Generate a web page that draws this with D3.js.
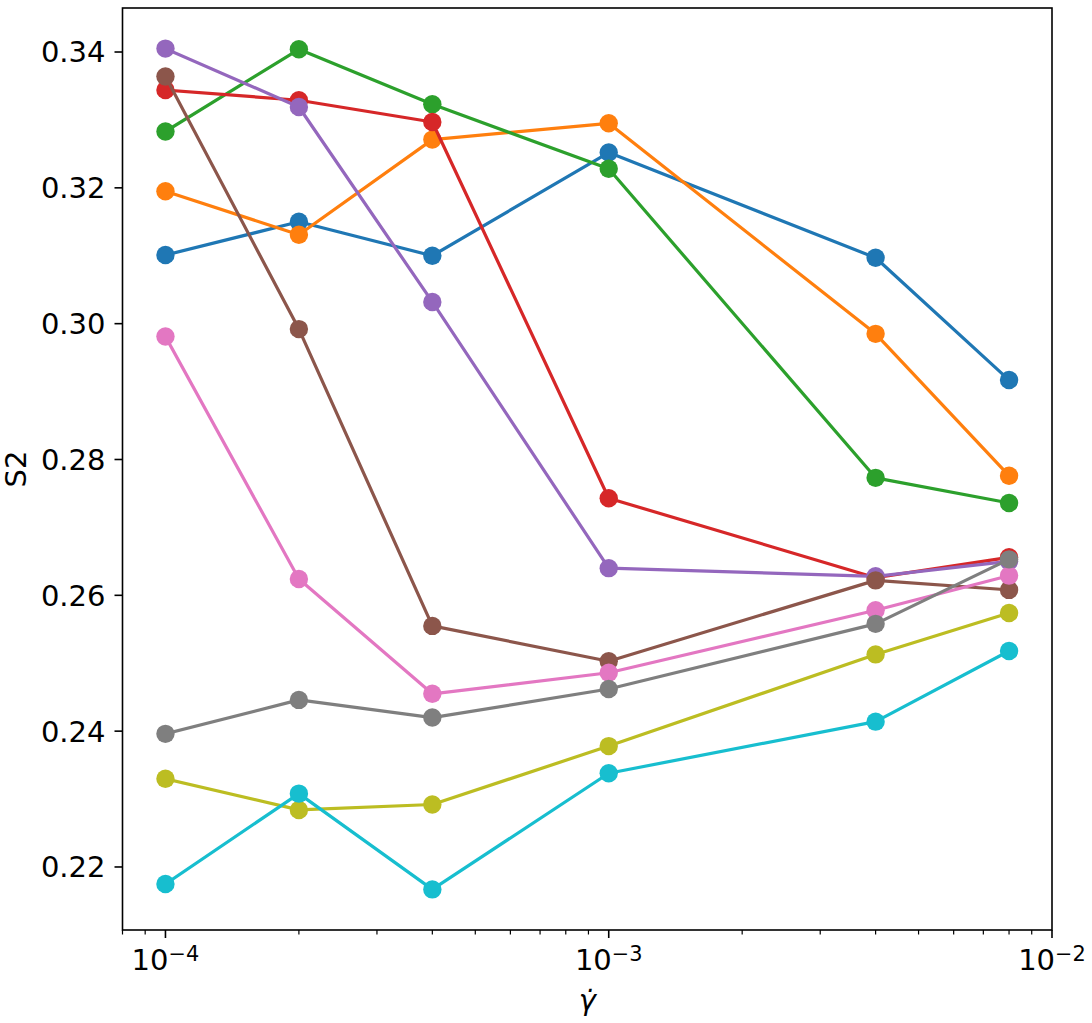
<!DOCTYPE html>
<html>
<head>
<meta charset="utf-8">
<script src="https://cdn.jsdelivr.net/npm/d3@7"></script>
<style>
  body { margin: 0; background: #fff; }
  text { font-family: "DejaVu Sans", sans-serif; fill: #000; }
</style>
</head>
<body>
<svg id="chart" width="1092" height="1023"></svg>
<script>
// shear rates (x) and S2 values, one array per run
var rates = [1e-4, 2e-4, 4e-4, 1e-3, 4e-3, 8e-3];
var s2_0 = [0.3101, 0.3150, 0.3100, 0.3252, 0.3097, 0.2917];
var s2_1 = [0.3195, 0.3131, 0.3271, 0.3295, 0.2985, 0.2776];
var s2_2 = [0.3283, 0.3404, 0.3323, 0.3228, 0.2773, 0.2736];
var s2_3 = [0.3344, 0.3329, 0.3297, 0.2743, 0.2626, 0.2656];
var s2_4 = [0.3405, 0.3319, 0.3032, 0.2640, 0.2628, 0.2650];
var s2_5 = [0.3364, 0.2992, 0.2555, 0.2503, 0.2622, 0.2608];
var s2_6 = [0.2981, 0.2624, 0.2455, 0.2486, 0.2578, 0.2629];
var s2_7 = [0.2396, 0.2446, 0.2420, 0.2462, 0.2558, 0.2653];
var s2_8 = [0.2330, 0.2284, 0.2292, 0.2378, 0.2513, 0.2574];
var s2_9 = [0.2175, 0.2308, 0.2167, 0.2338, 0.2414, 0.2518];
var runs = [s2_0, s2_1, s2_2, s2_3, s2_4, s2_5, s2_6, s2_7, s2_8, s2_9];
var colors = ["#1f77b4", "#ff7f0e", "#2ca02c", "#d62728", "#9467bd",
              "#8c564b", "#e377c2", "#7f7f7f", "#bcbd22", "#17becf"];
var yTicks = [0.22, 0.24, 0.26, 0.28, 0.30, 0.32, 0.34];
var xMajor = [1e-4, 1e-3, 1e-2];

var LEFT = 122.5, RIGHT = 1052, TOP = 8, BOTTOM = 930;
var FONT = 29;

var svg = d3.select("#chart");

var x = d3.scaleLog().domain([8e-5, 1e-2]).range([LEFT, RIGHT]);
var y = d3.scaleLinear().domain([0.21072, 0.34648]).range([BOTTOM, TOP]);

// minor ticks 2..9 per decade inside the domain
var xMinor = [];
[1e-5, 1e-4, 1e-3].forEach(function(dec){
    for (var k = 2; k <= 9; k++) {
        var v = k * dec;
        if (v >= 8e-5 && v <= 1e-2) xMinor.push(v);
    }
});

var line = d3.line()
    .x(function(d, i){ return x(rates[i]); })
    .y(function(d){ return y(d); });

var plot = svg.append("g");
runs.forEach(function(run, r){
    var g = plot.append("g");
    g.append("path")
        .attr("d", line(run))
        .attr("fill", "none")
        .attr("stroke", colors[r])
        .attr("stroke-width", 3.2)
        .attr("stroke-linejoin", "round")
        .attr("stroke-linecap", "square");
    g.selectAll("circle").data(run).enter().append("circle")
        .attr("cx", function(d, i){ return x(rates[i]); })
        .attr("cy", function(d){ return y(d); })
        .attr("r", 9.2)
        .attr("fill", colors[r]);
});

// frame
svg.append("rect")
    .attr("x", LEFT).attr("y", TOP)
    .attr("width", RIGHT - LEFT).attr("height", BOTTOM - TOP)
    .attr("fill", "none").attr("stroke", "#000").attr("stroke-width", 1.6);

// y axis
var yAxis = svg.append("g");
yAxis.selectAll("line").data(yTicks).enter().append("line")
    .attr("x1", LEFT - 8).attr("x2", LEFT)
    .attr("y1", function(d){ return y(d); })
    .attr("y2", function(d){ return y(d); })
    .attr("stroke", "#000").attr("stroke-width", 1.6);
yAxis.selectAll("text").data(yTicks).enter().append("text")
    .attr("x", LEFT - 17)
    .attr("y", function(d){ return y(d); })
    .attr("dy", "0.36em")
    .attr("text-anchor", "end")
    .style("font-size", FONT + "px")
    .text(function(d){ return d.toFixed(2); });

// x axis
var xAxis = svg.append("g");
xAxis.selectAll("line.major").data(xMajor).enter().append("line")
    .attr("class", "major")
    .attr("x1", function(d){ return x(d); }).attr("x2", function(d){ return x(d); })
    .attr("y1", BOTTOM).attr("y2", BOTTOM + 8)
    .attr("stroke", "#000").attr("stroke-width", 1.6);
xAxis.selectAll("line.minor").data(xMinor).enter().append("line")
    .attr("class", "minor")
    .attr("x1", function(d){ return x(d); }).attr("x2", function(d){ return x(d); })
    .attr("y1", BOTTOM).attr("y2", BOTTOM + 4.5)
    .attr("stroke", "#000").attr("stroke-width", 1.2);
var xl = xAxis.selectAll("text").data(xMajor).enter().append("text")
    .attr("x", function(d){ return x(d); })
    .attr("y", BOTTOM + 40)
    .attr("text-anchor", "middle")
    .style("font-size", FONT + "px");
xl.append("tspan").text("10");
xl.append("tspan")
    .attr("dy", "-0.45em")
    .style("font-size", (FONT * 0.72) + "px")
    .text(function(d){ return "\u2212" + Math.round(-Math.log10(d)); });

// axis labels
svg.append("text")
    .attr("transform", "translate(26," + ((TOP + BOTTOM) / 2) + ") rotate(-90)")
    .attr("text-anchor", "middle")
    .style("font-size", FONT + "px")
    .text("S2");
svg.append("text")
    .attr("x", (LEFT + RIGHT) / 2)
    .attr("y", 1010)
    .attr("text-anchor", "middle")
    .style("font-size", FONT + "px")
    .style("font-style", "italic")
    .text("\u03b3\u0307");
</script>
</body>
</html>
